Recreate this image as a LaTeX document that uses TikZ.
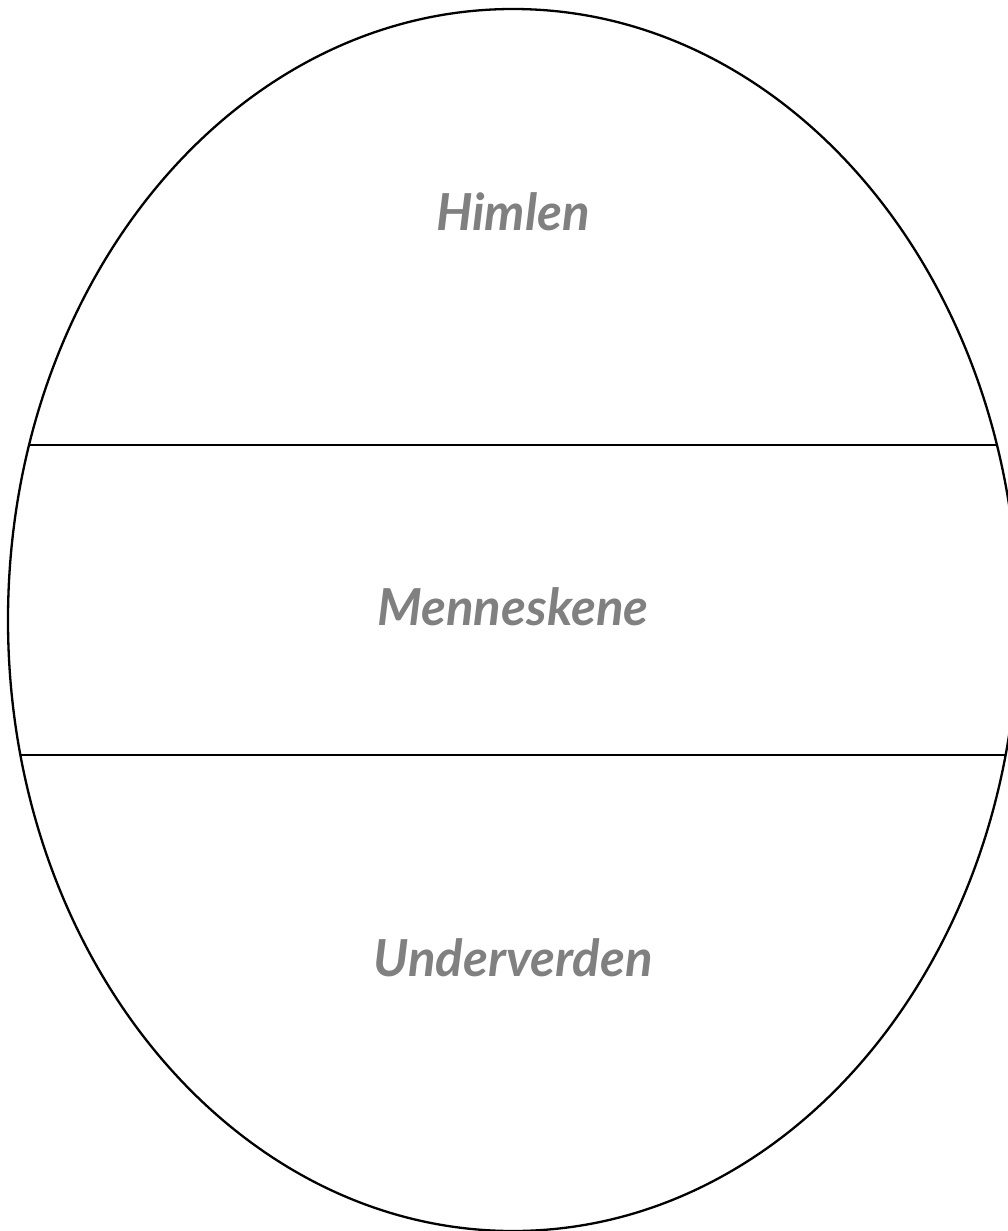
\documentclass[tikz,border=0pt]{standalone}
\usepackage{fontspec}
\setmainfont{Lato}
\begin{document}
\begin{tikzpicture}[x=1pt,y=-1pt,
  outline/.style={draw=black,line width=2.3pt},
  label/.style={text=black!50,font=\fontsize{51}{55}\selectfont\bfseries\itshape,anchor=center}]
\useasboundingbox (0,0) rectangle (1007,1231);
\draw[outline] (513,620) ellipse [x radius=505, y radius=611];
\begin{scope}
  \clip (513,620) ellipse [x radius=505, y radius=611];
  \draw[outline] (0,445) -- (1100,445);
  \draw[outline] (0,755) -- (1100,755);
\end{scope}
\node[label] (himlen) at (513,212) {Himlen};
\node[label] (menneskene) at (513,607) {Menneskene};
\node[label] (underverden) at (513,958) {Underverden};
\end{tikzpicture}
\end{document}
